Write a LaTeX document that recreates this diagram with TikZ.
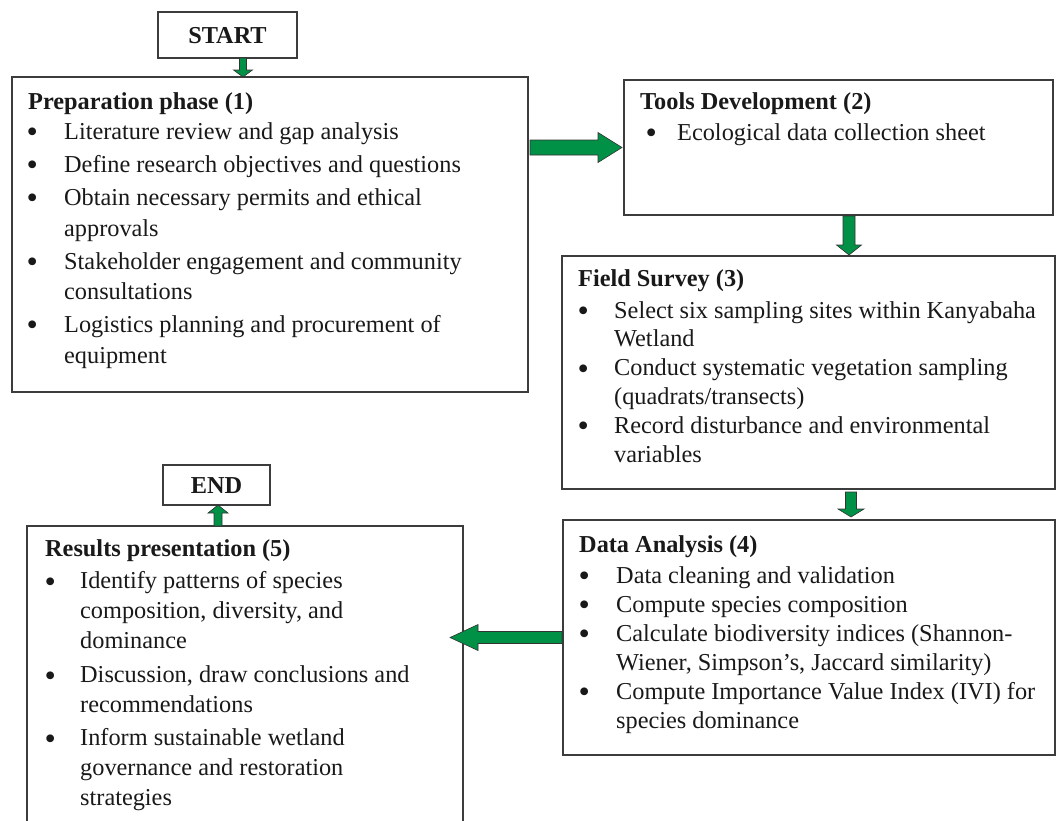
\documentclass[tikz,border=0pt]{standalone}
\usepackage{fontspec}
\setmainfont{Liberation Serif}
\usetikzlibrary{calc}
\definecolor{boxline}{RGB}{60,60,60}
\definecolor{arrgreen}{RGB}{0,145,70}
\definecolor{txt}{RGB}{25,25,25}
\newlength\boff \newlength\toff
\newcommand\bl{\makebox[\toff][l]{\hspace{\boff}\smash{\raisebox{-3.4pt}{\scalebox{1.33}{\textbullet}}}}}
\newcommand\cl{\hspace*{\toff}}
\newcommand\blockarrow[5]{%
  \coordinate (ba-h) at ($(#2)!#5!(#1)$);
  \filldraw[blockarr] ($(#1)!#3!90:(#2)$) -- ($(ba-h)!#3!-90:(#1)$) -- ($(ba-h)!#4!-90:(#1)$) -- (#2) -- ($(ba-h)!#4!90:(#1)$) -- ($(ba-h)!#3!90:(#1)$) -- ($(#1)!#3!-90:(#2)$) -- cycle;}
\begin{document}
\begin{tikzpicture}[x=1pt,y=-1pt,
  box/.style={draw=boxline,line width=1.3pt,fill=none,inner sep=0pt,outer sep=0pt},
  blockarr/.style={fill=arrgreen,draw=black!80,line width=0.6pt,line join=miter},
  txtblk/.style={anchor=base west,inner sep=0pt,text=txt,align=left},
  ]
\useasboundingbox (0,0) rectangle (1056,820);
\clip (0,0) rectangle (1056,820);
\fill[white] (0,0) rectangle (1056,820);

% boxes
\node[box,minimum width=139pt,minimum height=46pt] (start) at (227.5,35) {};
\node[anchor=center,text=txt,font=\fontsize{24.3}{29}\selectfont\bfseries] (starttxt) at (227.5,36) {START};
\node[box,minimum width=516pt,minimum height=315pt] (b1) at (270,234.5) {};
\node[box,minimum width=429pt,minimum height=135pt] (b2) at (838.5,147.5) {};
\node[box,minimum width=493pt,minimum height=233pt] (b3) at (808.5,372.5) {};
\node[box,minimum width=492pt,minimum height=235pt] (b4) at (809,637.5) {};
\node[box,minimum width=107pt,minimum height=40pt] (end) at (216.5,485) {};
\node[anchor=center,text=txt,font=\fontsize{24.3}{29}\selectfont\bfseries] (endtxt) at (216.5,486) {END};
\node[box,minimum width=436pt,minimum height=304pt] (b5) at (245,678) {};

% texts
\node[txtblk,font=\fontsize{24.3}{30.5}\selectfont] (t1) at (28,109) {\setlength\boff{-1.6pt}\setlength\toff{36pt}%
\begin{tabular}[t]{@{}l@{}}
\textbf{Preparation phase (1)}\\
\bl Literature review and gap analysis\\[2.5pt]
\bl Define research objectives and questions\\[2.5pt]
\bl Obtain necessary permits and ethical\\
\cl approvals\\[2.5pt]
\bl Stakeholder engagement and community\\
\cl consultations\\[2.5pt]
\bl Logistics planning and procurement of\\
\cl equipment
\end{tabular}};

\node[txtblk,font=\fontsize{24.3}{31}\selectfont] (t2) at (640,109) {\setlength\boff{5.4pt}\setlength\toff{37pt}%
\begin{tabular}[t]{@{}l@{}}
\textbf{Tools Development (2)}\\
\bl Ecological data collection sheet
\end{tabular}};

\node[txtblk,font=\fontsize{24.3}{28.8}\selectfont] (t3) at (578,286) {\setlength\boff{-0.6pt}\setlength\toff{36pt}%
\begin{tabular}[t]{@{}l@{}}
\textbf{Field Survey (3)}\\[3.2pt]
\bl Select six sampling sites within Kanyabaha\\
\cl Wetland\\
\bl Conduct systematic vegetation sampling\\
\cl (quadrats/transects)\\
\bl Record disturbance and environmental\\
\cl variables
\end{tabular}};

\node[txtblk,font=\fontsize{24.3}{29}\selectfont] (t4) at (579,552) {\setlength\boff{-0.6pt}\setlength\toff{37pt}%
\begin{tabular}[t]{@{}l@{}}
\textbf{Data Analysis (4)}\\[2pt]
\bl Data cleaning and validation\\
\bl Compute species composition\\
\bl Calculate biodiversity indices (Shannon-\\
\cl Wiener, Simpson’s, Jaccard similarity)\\
\bl Compute Importance Value Index (IVI) for\\
\cl species dominance
\end{tabular}};

\node[txtblk,font=\fontsize{24.3}{30}\selectfont] (t5) at (45,556) {\setlength\boff{-0.6pt}\setlength\toff{35pt}%
\begin{tabular}[t]{@{}l@{}}
\textbf{Results presentation (5)}\\[2.7pt]
\bl Identify patterns of species\\
\cl composition, diversity, and\\
\cl dominance\\[4pt]
\bl Discussion, draw conclusions and\\
\cl recommendations\\[3pt]
\bl Inform sustainable wetland\\
\cl governance and restoration\\
\cl strategies
\end{tabular}};

% connectors (block arrows)
\coordinate (a0s) at (243,0 |- start.south);
\coordinate (a0e) at (243,0 |- b1.north);
\blockarrow{a0s}{a0e}{3.5pt}{9.5pt}{7pt}
\coordinate (a1s) at (b1.east |- b2.west);
\coordinate (a1e) at (b2.west);
\blockarrow{$(a1s)+(2,0)$}{$(a1e)+(-2,0)$}{7.5pt}{15pt}{24pt}
\coordinate (a2s) at (849,0 |- b2.south);
\coordinate (a2e) at (849,0 |- b3.north);
\blockarrow{$(a2s)+(0,1)$}{$(a2e)+(0,-1)$}{6pt}{12.5pt}{10pt}
\coordinate (a3s) at (851,0 |- b3.south);
\coordinate (a3e) at (851,0 |- b4.north);
\blockarrow{$(a3s)+(0,3)$}{$(a3e)+(0,-3)$}{5.5pt}{13pt}{8pt}
\coordinate (a4s) at (b4.west);
\coordinate (a4e) at (b5.east |- b4.west);
\blockarrow{$(a4s)+(-1,0)$}{$(a4e)+(-13,0)$}{6pt}{13pt}{28pt}
\coordinate (a5s) at (218,0 |- b5.north);
\coordinate (a5e) at (218,0 |- end.south);
\blockarrow{a5s}{a5e}{4pt}{10pt}{8pt}
\end{tikzpicture}
\end{document}
